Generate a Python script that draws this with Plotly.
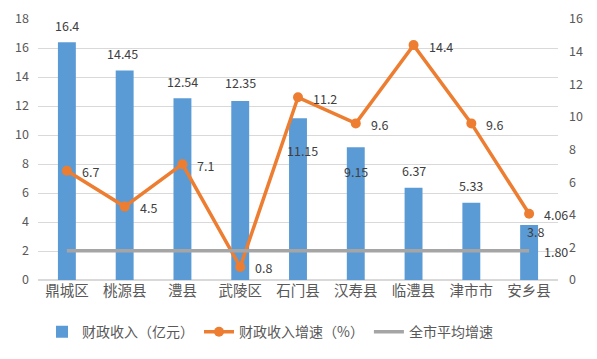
import plotly.graph_objects as go

categories = ["鼎城区", "桃源县", "澧县", "武陵区", "石门县", "汉寿县", "临澧县", "津市市", "安乡县"]
revenue = [16.4, 14.45, 12.54, 12.35, 11.15, 9.15, 6.37, 5.33, 3.8]
growth = [6.7, 4.5, 7.1, 0.8, 11.2, 9.6, 14.4, 9.6, 4.06]
city_avg = [1.80] * len(categories)
revenue_labels = ["16.4", "14.45", "12.54", "12.35", "11.15", "9.15", "6.37", "5.33", "3.8"]
growth_labels = ["6.7", "4.5", "7.1", "0.8", "11.2", "9.6", "14.4", "9.6", "4.06"]

# label offsets (style only)
bar_lbl_dy = [17, 17, 17, 18, -32, -24, 17, 17, -7]
bar_lbl_dx = [0, -2, 0, 0, 4, 0, 0, 0, 6]

BLUE = "#5B9BD5"
ORANGE = "#ED7D31"
GRAY = "#A5A5A5"
TXT = "#404040"
TICK = "#595959"
FONT = "Noto Sans CJK SC, Noto Sans, sans-serif"

W, H = 589, 351
L, R, T, B = 30, 39, 11, 79
PW, PH = W - L - R, H - T - B

fig = go.Figure()
fig.add_trace(go.Bar(x=categories, y=revenue, name="财政收入（亿元）",
                     marker=dict(color=BLUE, line=dict(width=0)), width=0.31,
                     yaxis="y"))
fig.add_trace(go.Scatter(x=categories, y=growth, name="财政收入增速（%）",
                         mode="lines+markers", yaxis="y2",
                         line=dict(color=ORANGE, width=3.5),
                         marker=dict(color=ORANGE, size=10)))
fig.add_trace(go.Scatter(x=categories, y=city_avg, name="全市平均增速",
                         mode="lines", yaxis="y2",
                         line=dict(color=GRAY, width=3.5)))

ann = []
for c, v, t, dy, dx in zip(categories, revenue, revenue_labels, bar_lbl_dy, bar_lbl_dx):
    ann.append(dict(x=c, y=v, xref="x", yref="y", text=t, showarrow=False,
                    yshift=dy, xshift=dx, xanchor="center", yanchor="middle",
                    font=dict(size=12.5, color=TXT, family=FONT)))
for c, v, t in zip(categories, growth, growth_labels):
    ann.append(dict(x=c, y=v, xref="x", yref="y2", text=t, showarrow=False,
                    xshift=13, yshift=-1, xanchor="left", yanchor="middle",
                    font=dict(size=12.5, color=TXT, family=FONT)))
ann.append(dict(x=categories[-1], y=city_avg[-1], xref="x", yref="y2", text="1.80",
                showarrow=False, xshift=13, yshift=-1, xanchor="left", yanchor="middle",
                font=dict(size=12.5, color=TXT, family=FONT)))

fig.update_layout(
    width=W, height=H,
    margin=dict(l=L, r=R, t=T, b=B, autoexpand=False),
    paper_bgcolor="white", plot_bgcolor="white",
    font=dict(family=FONT, color=TICK, size=12),
    showlegend=True,
    legend=dict(orientation="h", x=(34 - L) / PW, xanchor="left",
                y=(PH - (325 - T)) / PH + 0.003, yanchor="middle",
                font=dict(size=14, color=TICK, family=FONT), itemwidth=30,
                tracegroupgap=0),
    bargap=0.69,
    xaxis=dict(showgrid=False, showline=False, ticks="", tickfont=dict(size=14.5, color=TICK),
               automargin=False, range=[-0.5, len(categories) - 0.5]),
    yaxis=dict(range=[0, 18], dtick=2, showgrid=True, gridcolor="#D9D9D9", gridwidth=1,
               zeroline=True, zerolinecolor="#D9D9D9", showline=False, ticks="",
               tickfont=dict(size=12.5, color=TICK), ticklabelstandoff=8, automargin=False),
    yaxis2=dict(range=[0, 16], dtick=2, overlaying="y", side="right", showgrid=False,
                zeroline=False, showline=False, ticks="",
                tickfont=dict(size=12.5, color=TICK), ticklabelstandoff=10, automargin=False),
    annotations=ann,
)

fig.write_html("out.html")
